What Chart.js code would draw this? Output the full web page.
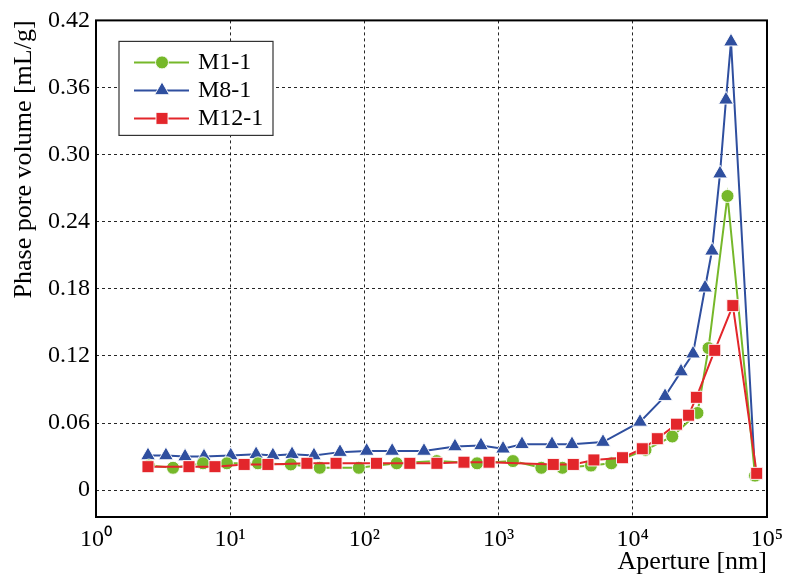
<!DOCTYPE html>
<html>
<head>
<meta charset="utf-8">
<script src="https://cdn.jsdelivr.net/npm/chart.js@4.4.1/dist/chart.umd.min.js"></script>
<style>
  html, body { margin: 0; padding: 0; background: #fff; }
  #wrap { width: 786px; height: 581px; }
</style>
</head>
<body>
<div id="wrap"><canvas id="poreChart" width="786" height="581"></canvas></div>
<script>
// aperture [nm] / pore volume [mL/g]
const m1X = [2.48, 3.75, 6.27, 9.45, 16.1, 28.3, 46.5, 90.9, 174, 346, 691, 1279, 2081, 2987, 4880, 6922, 12440, 19690, 30330, 36680, 50770, 81450];
const m1Y = [0.022, 0.020, 0.024, 0.024, 0.024, 0.023, 0.020, 0.020, 0.024, 0.026, 0.024, 0.026, 0.020, 0.020, 0.022, 0.024, 0.036, 0.048, 0.069, 0.127, 0.263, 0.013];

const m8X = [2.44, 3.32, 4.61, 6.38, 10.1, 15.6, 20.8, 28.9, 42.1, 65.8, 104, 161, 278, 473, 739, 1079, 1494, 2500, 3523, 5998, 11320, 17390, 22880, 28100, 34550, 38910, 44640, 49450, 53930, 81450];
const m8Y = [0.031, 0.031, 0.030, 0.030, 0.031, 0.032, 0.031, 0.032, 0.031, 0.034, 0.035, 0.035, 0.035, 0.039, 0.040, 0.037, 0.041, 0.041, 0.041, 0.043, 0.061, 0.084, 0.106, 0.122, 0.181, 0.214, 0.283, 0.349, 0.401, 0.015];

const m12X = [2.44, 4.93, 7.7, 12.7, 19.1, 37.3, 61.5, 123, 218, 347, 552, 849, 2556, 3602, 5131, 8380, 11770, 15230, 21180, 26050, 29770, 40800, 55660, 83800];
const m12Y = [0.021, 0.021, 0.021, 0.023, 0.023, 0.024, 0.024, 0.024, 0.024, 0.024, 0.025, 0.025, 0.023, 0.023, 0.027, 0.029, 0.037, 0.046, 0.059, 0.067, 0.083, 0.125, 0.165, 0.015];

const seriesNames = ['M1-1', 'M8-1', 'M12-1'];
const seriesColors = ['#76b82a', '#2f4f9f', '#e3262b'];

const xTicks = [1, 10, 100, 1000, 10000, 100000];
const xTickLabels = ['10⁰', '10¹', '10²', '10³', '10⁴', '10⁵'];
const yTicks = [0, 0.06, 0.12, 0.18, 0.24, 0.30, 0.36, 0.42];
const yTickLabels = ['0', '0.06', '0.12', '0.18', '0.24', '0.30', '0.36', '0.42'];

function toPoints(xs, ys) {
    return xs.map((x, i) => ({ x: x, y: ys[i] }));
}

Chart.defaults.font.family = "'Liberation Serif', 'Times New Roman', serif";
Chart.defaults.color = '#000';

// frame round the plot + boxed legend with line-through markers
const frameAndLegend = {
    id: 'frameAndLegend',
    afterDraw(chart) {
        const ctx = chart.ctx;
        const area = chart.chartArea;
        ctx.save();
        ctx.strokeStyle = '#000';
        ctx.lineWidth = 2;
        ctx.strokeRect(area.left, area.top, area.right - area.left, area.bottom - area.top);

        const left = area.left + 23, top = area.top + 21;
        ctx.fillStyle = '#fff';
        ctx.fillRect(left, top, 154, 94);
        ctx.strokeStyle = '#333';
        ctx.lineWidth = 1.2;
        ctx.strokeRect(left, top, 154, 94);

        ctx.font = "24px 'Liberation Serif', serif";
        ctx.textBaseline = 'middle';
        chart.data.datasets.forEach((ds, row) => {
            const y = top + 21 + row * 28;
            ctx.strokeStyle = ds.borderColor;
            ctx.lineWidth = ds.borderWidth;
            ctx.beginPath();
            ctx.moveTo(left + 15, y);
            ctx.lineTo(left + 70, y);
            ctx.stroke();
            ctx.fillStyle = ds.pointBackgroundColor;
            ctx.strokeStyle = ds.pointBorderColor;
            ctx.lineWidth = ds.pointBorderWidth;
            Chart.helpers.drawPoint(ctx, {
                pointStyle: ds.pointStyle,
                radius: ds.pointRadius,
                borderWidth: ds.pointBorderWidth,
                rotation: 0
            }, left + 43, y);
            ctx.fillStyle = '#000';
            ctx.fillText(ds.label, left + 79, y);
        });
        ctx.restore();
    }
};

function makeSet(i, xs, ys, style, radius, order) {
    return {
        label: seriesNames[i],
        data: toPoints(xs, ys),
        borderColor: seriesColors[i],
        backgroundColor: seriesColors[i],
        pointBackgroundColor: seriesColors[i],
        pointBorderColor: 'rgba(255,255,255,0.9)',
        pointBorderWidth: 1,
        borderWidth: 2,
        pointStyle: style,
        pointRadius: radius,
        tension: 0,
        order: order
    };
}

const gridOpts = { color: 'rgba(0,0,0,0.85)', lineWidth: 1, drawTicks: false };
const borderOpts = { display: false, dash: [3, 3] };

new Chart(document.getElementById('poreChart'), {
    type: 'line',
    data: {
        datasets: [
            makeSet(0, m1X, m1Y, 'circle', 6.5, 1),
            makeSet(1, m8X, m8Y, 'triangle', 8.5, 2),
            makeSet(2, m12X, m12Y, 'rect', 8.5, 0)
        ]
    },
    options: {
        responsive: false,
        animation: false,
        layout: { padding: { left: 0, top: 16, right: 19, bottom: 0 } },
        plugins: {
            legend: { display: false },
            tooltip: { enabled: false }
        },
        scales: {
            x: {
                type: 'logarithmic',
                min: 1,
                max: 100000,
                afterBuildTicks: s => { s.ticks = xTicks.map(v => ({ value: v })); },
                afterFit: s => {
                    s.height = 64;
                    // end labels may hang past the plot, like the original
                    s.paddingLeft = 0;
                    s.paddingRight = 0;
                },
                ticks: {
                    callback: (v, i) => xTickLabels[i],
                    autoSkip: false,
                    maxRotation: 0,
                    padding: 8,
                    font: { size: 24 },
                    color: '#000'
                },
                grid: gridOpts,
                border: borderOpts,
                title: {
                    display: true,
                    text: 'Aperture [nm]',
                    align: 'end',
                    font: { size: 26 },
                    color: '#000',
                    padding: { top: 0, bottom: 3 }
                }
            },
            y: {
                min: -0.024,
                max: 0.42,
                afterBuildTicks: s => { s.ticks = yTicks.map(v => ({ value: v })); },
                afterFit: s => { s.width = 96; },
                ticks: {
                    callback: (v, i) => yTickLabels[i],
                    padding: 6,
                    font: { size: 24 },
                    color: '#000'
                },
                grid: gridOpts,
                border: borderOpts,
                title: {
                    display: true,
                    text: 'Phase pore volume [mL/g]',
                    align: 'end',
                    font: { size: 26 },
                    color: '#000',
                    padding: { top: 9, bottom: 0 }
                }
            }
        }
    },
    plugins: [frameAndLegend]
});
</script>
</body>
</html>
